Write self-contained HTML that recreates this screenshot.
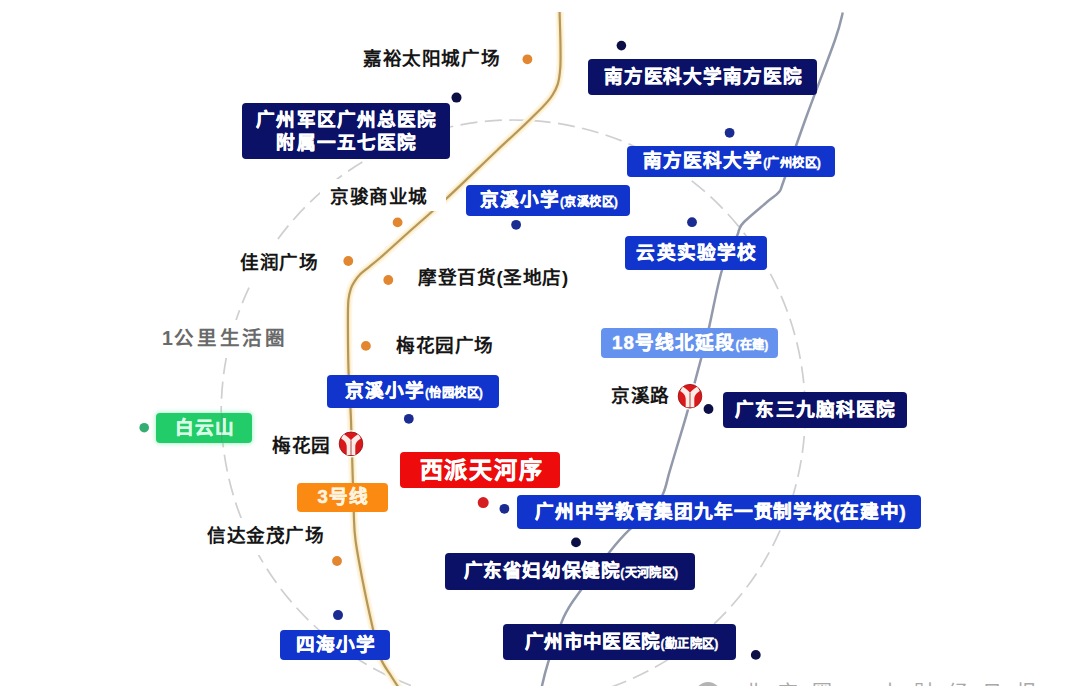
<!DOCTYPE html>
<html lang="zh-CN"><head><meta charset="utf-8">
<style>
html,body{margin:0;padding:0;background:#fff;}
body{width:1080px;height:686px;position:relative;overflow:hidden;font-family:"Liberation Sans",sans-serif;}
svg.bg{position:absolute;left:0;top:0;}
.b{position:absolute;--cw:19px;box-sizing:border-box;padding-left:1.5px;-webkit-text-stroke:0.5px currentColor;border-radius:4px;color:#fff;font-weight:bold;font-size:18.6px;--ls:1.1px;letter-spacing:var(--ls);line-height:1;display:flex;align-items:center;justify-content:center;white-space:nowrap;}
.nv{background:#0a1166;}
.bl{background:#1034cc;}
.lb{background:#6592ee;}
.rd{background:#ee0b0b;}
.og{background:#fb8a12;}
.gn{background:#22cc68;box-shadow:0 0 4px 1px rgba(80,235,150,0.45);}
.b small{--cw:12.4px;position:relative;top:0px;font-size:12.2px;font-weight:bold;--ls:0;letter-spacing:var(--ls);-webkit-text-stroke:0.3px currentColor;}
.t{position:absolute;--cw:19px;font-size:18.6px;--ls:0.6px;letter-spacing:var(--ls);line-height:1;color:#161616;white-space:nowrap;font-weight:bold;background:#fff;padding:9px 10px;margin:-9px 0 0 -10px;}
.d{position:absolute;border-radius:50%;}
i{font-style:normal;display:inline-block;width:var(--cw,1em);margin-right:var(--ls,0);text-align:center;letter-spacing:0;}
</style></head><body>
<svg class="bg" width="1080" height="686" viewBox="0 0 1080 686">
  <circle cx="513.2" cy="412" r="292" fill="none" stroke="#cfcfcf" stroke-width="1.7" stroke-dasharray="17 7.5" stroke-dashoffset="0.5"/>
  <path d="M842.8,12.5 C841.5,17.1 841.0,22.9 835.0,40.0 C829.0,57.1 815.5,91.7 807.0,115.0 C798.5,138.3 788.7,167.2 784.0,180.0 C779.3,192.8 781.8,188.3 779.0,192.0 C776.2,195.7 772.8,197.0 767.0,202.0 C761.2,207.0 748.7,217.3 744.0,222.0 C739.3,226.7 740.2,227.7 739.0,230.0 C737.8,232.3 739.8,229.3 737.0,236.0 C734.2,242.7 726.7,254.7 722.0,270.0 C717.3,285.3 712.5,312.8 709.0,327.6 C705.5,342.4 703.4,349.8 701.0,359.0 C698.6,368.2 696.9,374.2 694.6,383.0 C692.3,391.8 689.5,404.0 687.4,411.7 C685.3,419.4 684.2,422.6 682.3,429.2 C680.3,435.8 677.9,443.7 675.7,451.0 C673.5,458.3 671.3,465.8 669.2,472.9 C667.1,479.9 666.2,486.8 663.3,493.3 C660.4,499.8 657.6,505.9 652.0,512.0 C646.4,518.1 636.5,523.1 629.5,529.7 C622.5,536.3 618.1,541.4 610.0,551.5 C601.9,561.6 588.5,579.3 580.8,590.2 C573.1,601.1 569.4,604.7 563.9,616.8 C558.4,628.9 551.6,651.3 548.0,662.8 C544.4,674.3 543.2,680.6 542.0,686.0 C540.8,691.4 540.8,693.5 540.5,695.0" fill="none" stroke="#9199aa" stroke-width="2.5" stroke-linecap="butt"/>
  <path d="M559.6,12.0 C559.7,21.5 561.4,55.2 560.2,69.0 C559.0,82.8 557.5,86.7 552.5,95.0 C547.5,103.3 539.7,109.8 530.5,119.0 C521.3,128.2 511.5,136.8 497.5,150.0 C483.5,163.2 461.5,184.6 446.5,198.5 C431.5,212.4 418.5,223.4 407.5,233.2 C396.5,243.0 386.9,251.9 380.5,257.5 C374.1,263.1 372.6,264.1 369.2,266.8 C365.8,269.6 362.8,271.6 360.4,274.0 C358.0,276.4 356.2,278.9 354.6,281.3 C353.0,283.7 351.9,285.5 350.9,288.6 C349.9,291.7 348.9,294.8 348.4,300.0 C347.9,305.2 347.9,308.3 347.9,320.0 C347.9,331.7 348.0,353.3 348.5,370.0 C349.0,386.7 350.1,396.7 351.0,420.0 C351.9,443.3 352.9,490.0 353.7,510.0 C354.4,530.0 354.0,528.3 355.5,540.0 C357.0,551.7 359.6,565.0 362.5,580.0 C365.4,595.0 370.2,617.0 373.2,630.0 C376.2,643.0 377.6,650.5 380.5,658.0 C383.4,665.5 387.3,669.8 390.5,675.0 C393.7,680.2 398.0,686.7 399.5,689.0" fill="none" stroke="#fff7e6" stroke-width="8.5" stroke-linecap="butt"/>
  <path id="og" d="M559.6,12.0 C559.7,21.5 561.4,55.2 560.2,69.0 C559.0,82.8 557.5,86.7 552.5,95.0 C547.5,103.3 539.7,109.8 530.5,119.0 C521.3,128.2 511.5,136.8 497.5,150.0 C483.5,163.2 461.5,184.6 446.5,198.5 C431.5,212.4 418.5,223.4 407.5,233.2 C396.5,243.0 386.9,251.9 380.5,257.5 C374.1,263.1 372.6,264.1 369.2,266.8 C365.8,269.6 362.8,271.6 360.4,274.0 C358.0,276.4 356.2,278.9 354.6,281.3 C353.0,283.7 351.9,285.5 350.9,288.6 C349.9,291.7 348.9,294.8 348.4,300.0 C347.9,305.2 347.9,308.3 347.9,320.0 C347.9,331.7 348.0,353.3 348.5,370.0 C349.0,386.7 350.1,396.7 351.0,420.0 C351.9,443.3 352.9,490.0 353.7,510.0 C354.4,530.0 354.0,528.3 355.5,540.0 C357.0,551.7 359.6,565.0 362.5,580.0 C365.4,595.0 370.2,617.0 373.2,630.0 C376.2,643.0 377.6,650.5 380.5,658.0 C383.4,665.5 387.3,669.8 390.5,675.0 C393.7,680.2 398.0,686.7 399.5,689.0" fill="none" stroke="#fcebc4" stroke-width="5" stroke-linecap="butt"/>
  <path id="ogc" d="M559.6,12.0 C559.7,21.5 561.4,55.2 560.2,69.0 C559.0,82.8 557.5,86.7 552.5,95.0 C547.5,103.3 539.7,109.8 530.5,119.0 C521.3,128.2 511.5,136.8 497.5,150.0 C483.5,163.2 461.5,184.6 446.5,198.5 C431.5,212.4 418.5,223.4 407.5,233.2 C396.5,243.0 386.9,251.9 380.5,257.5 C374.1,263.1 372.6,264.1 369.2,266.8 C365.8,269.6 362.8,271.6 360.4,274.0 C358.0,276.4 356.2,278.9 354.6,281.3 C353.0,283.7 351.9,285.5 350.9,288.6 C349.9,291.7 348.9,294.8 348.4,300.0 C347.9,305.2 347.9,308.3 347.9,320.0 C347.9,331.7 348.0,353.3 348.5,370.0 C349.0,386.7 350.1,396.7 351.0,420.0 C351.9,443.3 352.9,490.0 353.7,510.0 C354.4,530.0 354.0,528.3 355.5,540.0 C357.0,551.7 359.6,565.0 362.5,580.0 C365.4,595.0 370.2,617.0 373.2,630.0 C376.2,643.0 377.6,650.5 380.5,658.0 C383.4,665.5 387.3,669.8 390.5,675.0 C393.7,680.2 398.0,686.7 399.5,689.0" fill="none" stroke="#b4975a" stroke-width="2.2" stroke-linecap="butt"/>
</svg>

<!-- plain labels -->
<div class="t" style="left:363px;top:50px;"><i>嘉</i><i>裕</i><i>太</i><i>阳</i><i>城</i><i>广</i><i>场</i></div>
<div class="t" style="left:330px;top:188px;padding-right:18px;padding-bottom:4.5px;"><i>京</i><i>骏</i><i>商</i><i>业</i><i>城</i></div>
<div class="t" style="left:240px;top:254px;"><i>佳</i><i>润</i><i>广</i><i>场</i></div>
<div class="t" style="left:418px;top:269px;"><i>摩</i><i>登</i><i>百</i><i>货</i>(<i>圣</i><i>地</i><i>店</i>)</div>
<div class="t" style="left:162px;top:329px;color:#6a6a6a;font-size:19.5px;--cw:20px;--ls:2.8px;letter-spacing:var(--ls);"><span style="--ls:1.2px;letter-spacing:var(--ls)">1</span><i>公</i><i>里</i><i>生</i><i>活</i><i>圈</i></div>
<div class="t" style="left:396px;top:337px;"><i>梅</i><i>花</i><i>园</i><i>广</i><i>场</i></div>
<div class="t" style="left:611px;top:387px;"><i>京</i><i>溪</i><i>路</i></div>
<div class="t" style="left:272px;top:437px;"><i>梅</i><i>花</i><i>园</i></div>
<div class="t" style="left:207px;top:527px;"><i>信</i><i>达</i><i>金</i><i>茂</i><i>广</i><i>场</i></div>
<!-- boxes -->
<div class="b nv" style="left:588px;top:59px;width:229px;height:36px;--ls:0.9px;letter-spacing:var(--ls);"><span><i>南</i><i>方</i><i>医</i><i>科</i><i>大</i><i>学</i><i>南</i><i>方</i><i>医</i><i>院</i></span></div>
<div class="b nv" style="left:242px;top:103px;width:208px;height:56px;flex-direction:column;line-height:23px;text-align:center;"><span><i>广</i><i>州</i><i>军</i><i>区</i><i>广</i><i>州</i><i>总</i><i>医</i><i>院</i><br><i>附</i><i>属</i><i>一</i><i>五</i><i>七</i><i>医</i><i>院</i></span></div>
<div class="b bl" style="left:627px;top:146px;width:208px;height:31px;"><span><i>南</i><i>方</i><i>医</i><i>科</i><i>大</i><i>学</i><small>(<i>广</i><i>州</i><i>校</i><i>区</i>)</small></span></div>
<div class="b bl" style="left:466px;top:185px;width:164px;height:31px;"><span><i>京</i><i>溪</i><i>小</i><i>学</i><small>(<i>京</i><i>溪</i><i>校</i><i>区</i>)</small></span></div>
<div class="b bl" style="left:625px;top:236px;width:142px;height:34px;"><span><i>云</i><i>英</i><i>实</i><i>验</i><i>学</i><i>校</i></span></div>
<div class="b lb" style="left:601px;top:328px;width:177px;height:30px;"><span>18<i>号</i><i>线</i><i>北</i><i>延</i><i>段</i><small>(<i>在</i><i>建</i>)</small></span></div>
<div class="b bl" style="left:327px;top:375px;width:172px;height:33px;"><span><i>京</i><i>溪</i><i>小</i><i>学</i><small>(<i>怡</i><i>园</i><i>校</i><i>区</i>)</small></span></div>
<div class="b nv" style="left:723px;top:392px;width:184px;height:36px;"><span><i>广</i><i>东</i><i>三</i><i>九</i><i>脑</i><i>科</i><i>医</i><i>院</i></span></div>
<div class="b gn" style="left:156px;top:413px;width:96px;height:30px;color:#d8fce6;"><span><i>白</i><i>云</i><i>山</i></span></div>
<div class="b rd" style="left:400px;top:452px;width:160px;height:36px;font-size:23px;--cw:23px;--ls:1.8px;letter-spacing:var(--ls);padding-left:3px;box-sizing:border-box;"><span><i>西</i><i>派</i><i>天</i><i>河</i><i>序</i></span></div>
<div class="b og" style="left:297px;top:483px;width:91px;height:29px;color:#fff4e0;"><span>3<i>号</i><i>线</i></span></div>
<div class="b bl" style="left:517px;top:495px;width:404px;height:34px;--ls:0.85px;letter-spacing:var(--ls);padding-left:4px;box-sizing:border-box;"><span><i>广</i><i>州</i><i>中</i><i>学</i><i>教</i><i>育</i><i>集</i><i>团</i><i>九</i><i>年</i><i>一</i><i>贯</i><i>制</i><i>学</i><i>校</i>(<i>在</i><i>建</i><i>中</i>)</span></div>
<div class="b nv" style="left:445px;top:553px;width:250px;height:37px;--ls:0.6px;letter-spacing:var(--ls);"><span><i>广</i><i>东</i><i>省</i><i>妇</i><i>幼</i><i>保</i><i>健</i><i>院</i><small>(<i>天</i><i>河</i><i>院</i><i>区</i>)</small></span></div>
<div class="b bl" style="left:280px;top:630px;width:110px;height:30px;"><span><i>四</i><i>海</i><i>小</i><i>学</i></span></div>
<div class="b nv" style="left:503px;top:624px;width:233px;height:36px;--ls:0.4px;letter-spacing:var(--ls);padding-left:4px;"><span><i>广</i><i>州</i><i>市</i><i>中</i><i>医</i><i>医</i><i>院</i><small>(<i>勤</i><i>正</i><i>院</i><i>区</i>)</small></span></div>

<!-- dots -->
<svg class="bg" width="1080" height="686" viewBox="0 0 1080 686">
  <g fill="#e28630">
    <circle cx="527.4" cy="59.3" r="4.9"/><circle cx="397.6" cy="222.4" r="4.9"/><circle cx="348.3" cy="261" r="4.9"/>
    <circle cx="388.3" cy="280" r="4.9"/><circle cx="365.9" cy="345.9" r="4.9"/><circle cx="337" cy="561" r="4.9"/>
  </g>
  <g fill="#0b0f45">
    <circle cx="456.5" cy="97.6" r="5"/><circle cx="621.4" cy="45.6" r="4.8"/><circle cx="708.5" cy="409" r="4.9"/>
    <circle cx="576" cy="542.4" r="4.9"/><circle cx="755.8" cy="654.9" r="4.9"/>
  </g>
  <g fill="#1a2c92">
    <circle cx="729.6" cy="132.8" r="4.9"/><circle cx="516.1" cy="224.8" r="4.9"/><circle cx="692" cy="222.2" r="4.9"/>
    <circle cx="408.8" cy="418.8" r="4.9"/><circle cx="504.4" cy="508.8" r="4.9"/><circle cx="338" cy="615.1" r="5"/>
  </g>
  <circle cx="483.2" cy="502.6" r="5.5" fill="#d41e22"/>
  <circle cx="144.2" cy="427.7" r="4.8" fill="#34ad72"/>
  <path d="M222,414 L221.6,442" stroke="#5a8a6a" stroke-width="1.2" opacity="0.45"/>
  <g id="metro" transform="translate(690,396.2)">
    <circle r="13.6" fill="#fff" opacity="0.9"/>
    <circle r="11.8" fill="#d9181b" stroke="#9c1212" stroke-width="0.9"/>
    <path d="M-9.8,-5.2 A11.8,11.8 0 0 1 -7,-9.5 C-4,-7.5 -1.5,-5.5 0,-3.5 C1.5,-5.5 4,-7.5 7,-9.5 A11.8,11.8 0 0 1 9.8,-5.2 C7,-3.5 4.3,-1 4.3,3 L4.3,11.1 L-4.3,11.1 L-4.3,3 C-4.3,-1 -7,-3.5 -9.8,-5.2 Z" fill="#fdebe6"/>
    <path d="M0,-3.5 L0,11.3" stroke="#8e2222" stroke-width="0.8"/>
  </g>
  <use href="#metro" transform="translate(-339,47.6)"/>
</svg>
<div style="position:absolute;left:695px;top:682px;width:26px;height:26px;border-radius:50%;background:#b4b4b4;"></div>
<div style="position:absolute;left:744px;top:683px;font-size:20px;line-height:1;color:#a8a8a8;--ls:14px;letter-spacing:var(--ls);white-space:nowrap;"><i>北</i><i>京</i><i>圈</i><i>一</i><i>本</i><i>财</i><i>经</i><i>日</i><i>报</i></div>
</body></html>
